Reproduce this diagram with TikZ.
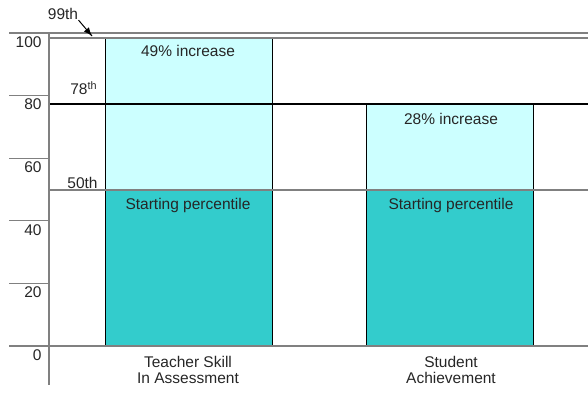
\documentclass[tikz,border=0pt]{standalone}
\usepackage{fontspec}
\setmainfont{Liberation Sans}
\usepackage{tikz}
\usetikzlibrary{positioning, calc, arrows.meta, arrows, decorations.markings}
\definecolor{gainfill}{HTML}{CCFFFF}
\definecolor{basefill}{HTML}{33CCCC}
\definecolor{rulegray}{HTML}{808080}
\tikzstyle{Pointer} = [
%Arrow used for the 99th note:
line width = 0.5pt,
decoration={
markings,
mark=at position 1 with {
\arrow{latex}
}
},
preaction = {decorate}
]

\begin{document}
\begin{tikzpicture}[
			x = 0.5pt, y = -0.5pt,
			font = \fontsize{7.75}{7.6}\selectfont,
			rule/.style = {draw = rulegray, line width = 0.6pt},
			darkrule/.style = {draw = black, line width = 0.6pt},
			gain/.style = {fill = gainfill, draw = black, line width = 0.5pt},
			base/.style = {fill = basefill, draw = black, line width = 0.5pt},
			label/.style = {inner sep = 0pt, text = black!85},
			category/.style = {inner sep = 0pt, align = center, text = black!85},
		]
		\useasboundingbox (0,0) rectangle (588,409);

		% bars
		\filldraw[gain](105,38) rectangle (272,190);
		\filldraw[base](105,190) rectangle (272,346);
		\filldraw[gain](366,104) rectangle (533,190);
		\filldraw[base](366,190) rectangle (533,346);

		% rules and axis
		\draw[rule](9,33)--(588,33);
		\draw[rule](49,38)--(588,38);
		\draw[darkrule](49,104)--(588,104);
		\draw[rule](49,190)--(588,190);
		\draw[rule](9,346)--(588,346);
		\draw[rule](49,33)--(49,385);
		\foreach \v in {0,20,...,100}{
			\draw[rule](9,346-3.13*\v)--(49,346-3.13*\v);
			\node[label, anchor = east] (tick\v) at (42,355-3.13*\v){\v};
		}

		% percentile notes
		\node[label](P99) at (63,14){99th};
		\coordinate(P99tip) at (92,36);
		\draw[Pointer](P99.south east)--(P99tip);
		\node[label, anchor = east](P78) at (98,88){78\textsuperscript{th}};
		\node[label, anchor = east](P50) at (98,183){50th};

		% bar texts
		\node[label](GainA) at (188,51){49\% increase};
		\node[label](BaseA) at (188,205){Starting percentile};
		\node[label](GainB) at (451,119){28\% increase};
		\node[label](BaseB) at (451,205){Starting percentile};

		\node[category](CatA) at (188,370){Teacher Skill\\In Assessment};
		\node[category](CatB) at (451,370){Student\\Achievement};

	\end{tikzpicture}
\end{document}
